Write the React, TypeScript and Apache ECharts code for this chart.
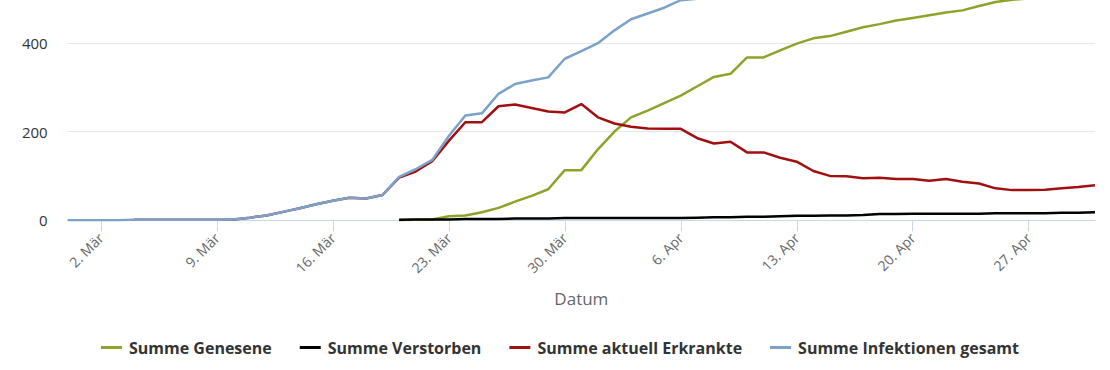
import React, { useEffect, useRef } from "react";
import * as echarts from "echarts";

const DATES = [
  "29. Feb", "1. Mär", "2. Mär", "3. Mär", "4. Mär", "5. Mär", "6. Mär", "7. Mär", "8. Mär", "9. Mär",
  "10. Mär", "11. Mär", "12. Mär", "13. Mär", "14. Mär", "15. Mär", "16. Mär", "17. Mär", "18. Mär", "19. Mär",
  "20. Mär", "21. Mär", "22. Mär", "23. Mär", "24. Mär", "25. Mär", "26. Mär", "27. Mär", "28. Mär", "29. Mär",
  "30. Mär", "31. Mär", "1. Apr", "2. Apr", "3. Apr", "4. Apr", "5. Apr", "6. Apr", "7. Apr", "8. Apr",
  "9. Apr", "10. Apr", "11. Apr", "12. Apr", "13. Apr", "14. Apr", "15. Apr", "16. Apr", "17. Apr", "18. Apr",
  "19. Apr", "20. Apr", "21. Apr", "22. Apr", "23. Apr", "24. Apr", "25. Apr", "26. Apr", "27. Apr", "28. Apr",
  "29. Apr", "30. Apr", "1. Mai",
];

const TICK_LABELS = ["2. Mär", "9. Mär", "16. Mär", "23. Mär", "30. Mär", "6. Apr", "13. Apr", "20. Apr", "27. Apr"];
const Y_LABELS = [0, 200, 400];

const GENESENE = [
  null, null, null, null, null, null, null, null, null, null,
  null, null, null, null, null, null, null, null, null, null,
  0, 1, 2, 9, 11, 18, 28, 42, 55, 70,
  113, 113, 160, 200, 232, 247, 264, 281, 302, 323,
  330, 367, 367, 383, 398, 410, 415, 425, 435, 442,
  450, 456, 462, 468, 473, 483, 492, 497, 500, 505,
  509, 514, 518,
];

const VERSTORBEN = [
  null, null, null, null, null, null, null, null, null, null,
  null, null, null, null, null, null, null, null, null, null,
  1, 2, 2, 2, 3, 3, 3, 4, 4, 4,
  5, 5, 5, 5, 5, 5, 5, 5, 6, 7,
  7, 8, 8, 9, 10, 10, 11, 11, 12, 14,
  14, 15, 15, 15, 15, 15, 16, 16, 16, 16,
  17, 17, 18,
];

const ERKRANKTE = [
  null, null, null, null, 1, 1, 1, 1, 1, 1,
  2, 6, 11, 19, 27, 36, 44, 51, 49, 57,
  96, 110, 133, 179, 221, 221, 257, 261, 253, 245,
  243, 262, 232, 218, 211, 207, 206, 206, 185, 173,
  177, 153, 153, 141, 132, 111, 100, 99, 95, 96,
  93, 93, 89, 93, 87, 83, 72, 68, 68, 69,
  72, 75, 79,
];

const INFEKTIONEN = [
  0, 0, 0, 0, 1, 1, 1, 1, 1, 1,
  2, 6, 11, 19, 27, 36, 44, 51, 49, 57,
  98, 115, 136, 190, 236, 241, 285, 307, 315, 322,
  364, 381, 399, 428, 453, 466, 479, 496, 499, 503,
  514, 528, 530, 535, 541, 544, 548, 551, 555, 560,
  564, 566, 570, 573, 576, 579, 583, 585, 588, 590,
  594, 597, 600,
];

const SERIES_NAMES = ["Summe Genesene", "Summe Verstorben", "Summe aktuell Erkrankte", "Summe Infektionen gesamt"];
const COLORS = ["#8da32a", "#000000", "#a10f10", "#7ba2c8"];

// The visible window is cropped at the top: the chart canvas extends HIDDEN px above it.
const HIDDEN = 46.5;

export default function App() {
  const ref = useRef<HTMLDivElement>(null);
  useEffect(() => {
    document.body.style.margin = "0";
    if (!ref.current) return;
    const chart = echarts.init(ref.current, undefined, { renderer: "svg" });
    const font = "'Open Sans', 'Noto Sans', sans-serif";
    const isTick = (_i: number, v: string) => TICK_LABELS.indexOf(v) >= 0;
    const datasets = [GENESENE, VERSTORBEN, ERKRANKTE, INFEKTIONEN];
    chart.setOption({
      animation: false,
      color: COLORS,
      textStyle: { fontFamily: font },
      grid: { left: 67.7, right: 15, top: 0, bottom: 150.7, containLabel: false, outerBoundsMode: "none" },
      xAxis: {
        type: "category",
        boundaryGap: false,
        data: DATES,
        name: "Datum",
        nameLocation: "middle",
        nameGap: 70,
        nameTextStyle: { color: "#666666", fontSize: 17, fontFamily: font },
        axisLine: { lineStyle: { color: "#ccd6eb", width: 1 } },
        axisTick: { show: true, interval: isTick, length: 11, lineStyle: { color: "#ccd6eb" } },
        axisLabel: { interval: isTick, rotate: 45, margin: 15, color: "#666666", fontSize: 14, fontFamily: font },
        splitLine: { show: false },
      },
      yAxis: {
        type: "value",
        min: 0,
        max: 600,
        interval: 200,
        axisLine: { show: false },
        axisTick: { show: false },
        axisLabel: {
          color: "#333333",
          fontSize: 15,
          margin: 20,
          fontFamily: font,
          formatter: (v: number) => (Y_LABELS.indexOf(v) >= 0 ? String(v) : ""),
        },
        splitLine: { lineStyle: { color: "#e6e6e6", width: 1 } },
      },
      legend: {
        left: 96,
        top: 334 + HIDDEN,
        icon: "rect",
        itemWidth: 21,
        itemHeight: 3,
        itemGap: 28,
        textStyle: { color: "#333333", fontWeight: "bold", fontSize: 16, fontFamily: font, padding: [0, 0, 0, 2] },
        data: SERIES_NAMES,
      },
      series: SERIES_NAMES.map((name, k) => ({
        name,
        type: "line",
        data: datasets[k],
        showSymbol: false,
        symbol: "none",
        lineStyle: { width: 2.5, color: COLORS[k] },
        itemStyle: { color: COLORS[k] },
        clip: true,
      })),
    });
    return () => chart.dispose();
  }, []);
  return (
    <div style={{ width: 1110, height: 370, overflow: "hidden", position: "relative" }}>
      <div ref={ref} style={{ position: "absolute", left: 0, top: -HIDDEN, width: 1110, height: 370 + HIDDEN }} />
    </div>
  );
}
